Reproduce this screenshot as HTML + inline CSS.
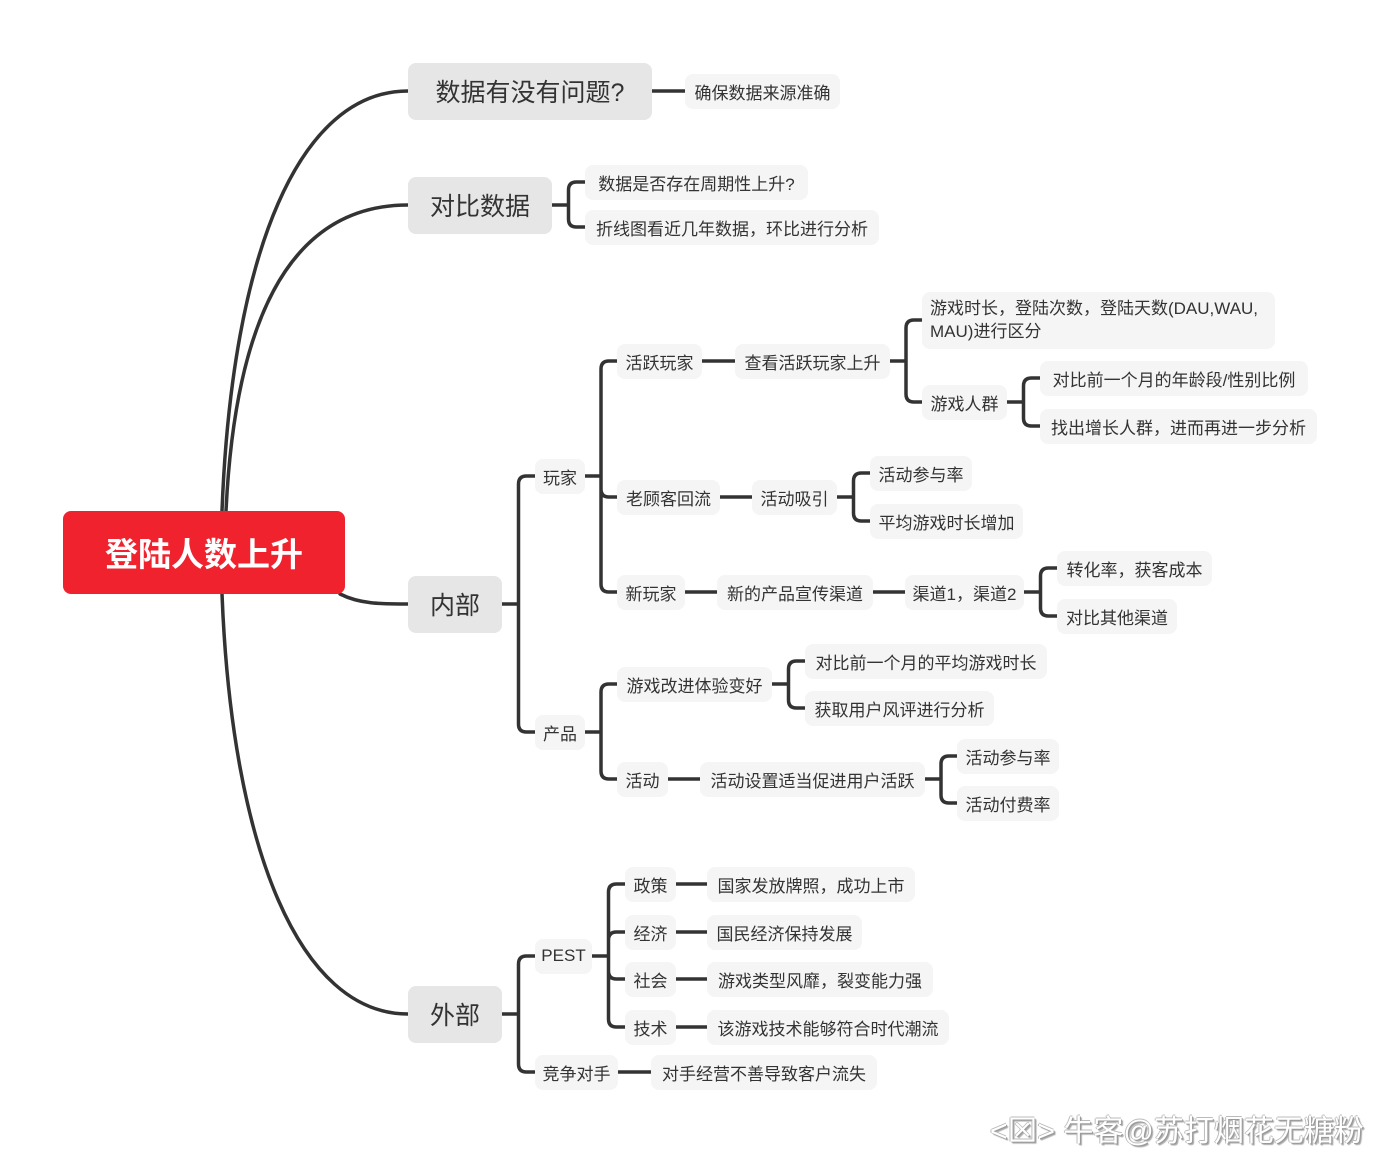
<!DOCTYPE html>
<html><head><meta charset="utf-8">
<style>
html,body{margin:0;padding:0;background:#fff;}
body{width:1380px;height:1153px;position:relative;overflow:hidden;font-family:"Liberation Sans","Noto Sans CJK SC",sans-serif;color:#333;}
.n{position:absolute;box-sizing:border-box;background:#f5f5f5;border-radius:8px;font-size:17px;display:flex;align-items:center;justify-content:center;white-space:nowrap;height:35px;}
.l1{background:#e6e6e6;font-size:25px;height:57px;border-radius:8px;}
.root{background:#f0222e;color:#fff;font-weight:bold;font-size:33px;border-radius:8px;}
svg{position:absolute;left:0;top:0;}
.wm{position:absolute;left:990px;top:1106px;font-size:30px;color:#fff;text-shadow:1px 1px 0 #999,-1px 0 0 #bbb,0 -1px 0 #bbb,2px 2px 1px #aaa;white-space:nowrap;}
</style></head><body>
<svg id="s" width="1380" height="1153"></svg>
<div id="c"></div>
<div class="wm">&lt;⊠&gt; 牛客@苏打烟花无糖粉</div>
<script>
var N=[
// id,text,x1,x2,cy,cls
['root','登陆人数上升',63,345,552,'root',83],
['a','数据有没有问题?',408,652,91,'l1'],
['b','对比数据',408,552,205,'l1'],
['c','内部',408,502,604,'l1'],
['d','外部',408,502,1014,'l1'],
['a1','确保数据来源准确',685,840,91],
['b1','数据是否存在周期性上升?',585,808,182],
['b2','折线图看近几年数据，环比进行分析',585,879,227],
['p','玩家',535,585,476],
['p1','活跃玩家',617,702,361],
['p11','查看活跃玩家上升',735,890,361],
['p111','游戏时长，登陆次数，登陆天数(DAU,WAU,<br>MAU)进行区分',922,1275,320,'',57],
['p112','游戏人群',922,1007,402],
['p1121','对比前一个月的年龄段/性别比例',1040,1308,378],
['p1122','找出增长人群，进而再进一步分析',1040,1317,426],
['p2','老顾客回流',617,720,497],
['p21','活动吸引',752,837,497],
['p211','活动参与率',870,972,473],
['p212','平均游戏时长增加',870,1023,521],
['p3','新玩家',617,685,592],
['p31','新的产品宣传渠道',717,873,592],
['p311','渠道1，渠道2',905,1024,592],
['p3111','转化率，获客成本',1057,1212,568],
['p3112','对比其他渠道',1057,1177,616],
['q','产品',535,585,732],
['q1','游戏改进体验变好',617,772,684],
['q11','对比前一个月的平均游戏时长',805,1047,661],
['q12','获取用户风评进行分析',805,994,708],
['q2','活动',617,668,779],
['q21','活动设置适当促进用户活跃',700,925,779],
['q211','活动参与率',957,1059,756],
['q212','活动付费率',957,1059,803],
['e','PEST',535,592,956],
['e1','政策',625,676,884],['e11','国家发放牌照，成功上市',707,915,884],
['e2','经济',625,676,932],['e21','国民经济保持发展',707,862,932],
['e3','社会',625,676,979],['e31','游戏类型风靡，裂变能力强',707,933,979],
['e4','技术',625,676,1027],['e41','该游戏技术能够符合时代潮流',707,949,1027],
['f','竞争对手',535,618,1072],['f1','对手经营不善导致客户流失',651,877,1072]
];
var M={},h='';
N.forEach(function(n){M[n[0]]=n;var ht=n[6]||(n[5]=='l1'?57:35);
var st='left:'+n[2]+'px;width:'+(n[3]-n[2])+'px;top:'+(n[4]-ht/2)+'px;height:'+ht+'px;';
if(n[0]=='p111')st+='justify-content:flex-start;padding-left:8px;line-height:23px;white-space:normal;';
h+='<div class="n '+(n[5]||'')+'" style="'+st+'">'+n[1]+'</div>';});
document.getElementById('c').innerHTML=h;
var E=[['b',['b1','b2']],['c',['p','q']],['p',['p1','p2','p3']],['p11',['p111','p112']],['p112',['p1121','p1122']],['p21',['p211','p212']],['p311',['p3111','p3112']],['q',['q1','q2']],['q1',['q11','q12']],['q21',['q211','q212']],['d',['e','f']],['e',['e1','e2','e3','e4']],
['a',['a1']],['p1',['p11']],['p2',['p21']],['p3',['p31']],['p31',['p311']],['q2',['q21']],['e1',['e11']],['e2',['e21']],['e3',['e31']],['e4',['e41']],['f',['f1']]];
var d='';
E.forEach(function(e){var P=M[e[0]],px=P[3],py=P[4];
 if(e[1].length==1){var C=M[e[1][0]];d+='M'+px+' '+py+'H'+C[2]+' ';return;}
 var cx=M[e[1][0]][2],tx=(px+cx)/2,r=8;
 d+='M'+px+' '+py+'H'+tx+' ';
 e[1].forEach(function(k){var C=M[k],cy=C[4],s=cy>py?1:-1;
  d+='M'+tx+' '+py+'V'+(cy-s*r)+'Q'+tx+' '+cy+' '+(tx+r)+' '+cy+'H'+C[2]+' ';});
});
// root curves
d+='M222 511 C 232 250 300 91 408 91 ';
d+='M226 511 C 236 300 300 205 408 205 ';
d+='M340 594 C 360 604 380 604 408 604 ';
d+='M222 594 C 232 850 300 1014 408 1014 ';
document.getElementById('s').innerHTML='<path d="'+d+'" fill="none" stroke="#333" stroke-width="3.5" stroke-linecap="round"/>';
</script>
</body></html>
